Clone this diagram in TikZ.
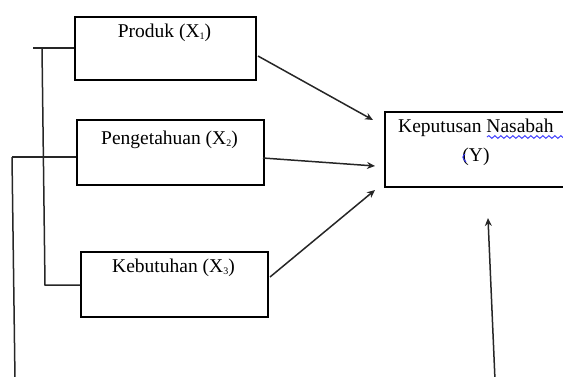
\documentclass[tikz,border=0pt]{standalone}
\usepackage{fontspec}
\setmainfont{Liberation Serif}
\usetikzlibrary{arrows.meta,decorations.pathmorphing}
\newcommand{\sbs}[1]{\raisebox{-2pt}{\fontsize{10}{10}\selectfont #1}}
\begin{document}
\begin{tikzpicture}[x=1pt,y=-1pt,
  box/.style={draw=black,line width=1.6pt,rectangle,inner sep=0pt,anchor=north west},
  lbl/.style={font=\fontsize{19.5}{23}\selectfont,inner sep=0pt},
  conn/.style={draw=black!85,line width=1.5pt},
  arr/.style={conn,-{Stealth[length=8pt,width=7pt]}},
  squig/.style={draw=blue!80!white,line width=0.9pt,decorate,decoration={snake,amplitude=1.4pt,segment length=6pt}}]
\useasboundingbox (0,0) rectangle (563,376);
\clip (0,0) rectangle (563,376);
% boxes
\node[box,minimum width=181pt,minimum height=63pt] (b1) at (74,16) {};
\node[box,minimum width=187pt,minimum height=65pt] (b2) at (76,119) {};
\node[box,minimum width=187pt,minimum height=65pt] (b3) at (80,251) {};
\node[box,minimum width=184pt,minimum height=75pt] (by) at (384,111) {};
% texts
\node[lbl] (t1) at (164.5,33) {Produk (X\sbs{1})};
\node[lbl] (t2) at (169.5,140) {Pengetahuan (X\sbs{2})};
\node[lbl] (t3) at (173.5,268) {Kebutuhan (X\sbs{3})};
\node[lbl,anchor=west] (ty1) at (398,128) {Keputusan Nasabah};
\node[lbl] (ty2) at (476,157) {(Y)};
% spell-check marks
\draw[squig] (487,137) -- (566,137);
\draw[draw=blue!80!white,line width=0.9pt] (465,154) .. controls (462,157) .. (466,162);
% arrow coordinates
\coordinate (s1) at (258,56);
\coordinate (e1) at (373,120);
\coordinate (s2) at (263,158);
\coordinate (e2) at (375,166);
\coordinate (s3) at (270,277);
\coordinate (e3) at (375,190);
\coordinate (s4) at (495,380);
\coordinate (e4) at (488,218);
\draw[arr] (s1) -- (e1);
\draw[arr] (s2) -- (e2);
\draw[arr] (s3) -- (e3);
\draw[arr] (s4) -- (e4);
% left brackets
\coordinate (p1) at (33,48);
\coordinate (p2) at (42,48);
\coordinate (p3) at (45,285);
\coordinate (q1) at (12,157);
\coordinate (q2) at (15,380);
\draw[conn] (p1) -- (b1.west |- p1);
\draw[conn] (p2) -- (p3) -- (b3.west |- p3);
\draw[conn] (q1) -- (b2.west |- q1);
\draw[conn] (q1) -- (q2);
\end{tikzpicture}
\end{document}
